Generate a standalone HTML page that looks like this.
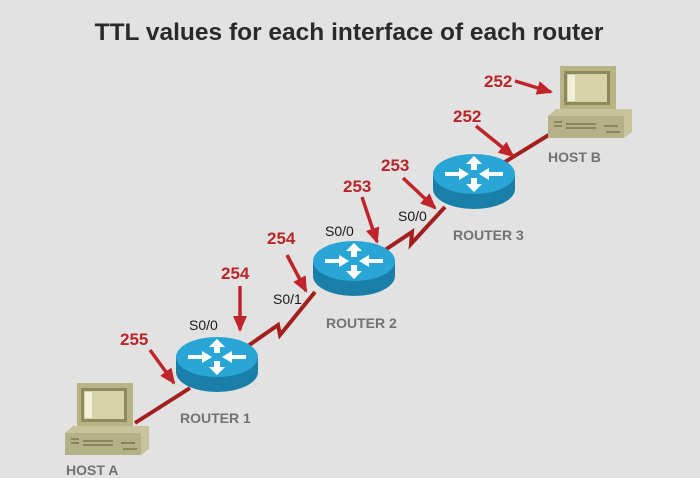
<!DOCTYPE html>
<html><head><style>body{margin:0;background:#e2e2e2}svg{display:block}</style></head>
<body>
<svg width="700" height="478" viewBox="0 0 700 478" xmlns="http://www.w3.org/2000/svg" font-family="Liberation Sans, sans-serif">
<defs>
<marker id="b" markerWidth="16" markerHeight="14" refX="14" refY="7" orient="auto" markerUnits="userSpaceOnUse"><path d="M0,0 L16,7 L0,14 Z" fill="#c0242a"/></marker>
<g id="r">
<path d="M-41,0 v15 a41,20 0 0 0 82,0 v-15 z" fill="#1a7fa8"/>
<ellipse cx="0" cy="0" rx="41" ry="20" fill="#29a6d6"/>
<g fill="#fff">
<path d="M0,-18 l-8,8 h5 v6 h6 v-6 h5 z"/>
<path d="M0,18 l-8,-8 h5 v-6 h6 v6 h5 z"/>
<path d="M-5,0 l-10,-6 v4 h-14 v4 h14 v4 z"/>
<path d="M5,0 l10,-6 v4 h14 v4 h-14 v4 z"/>
</g>
</g>
<g id="h">
<rect x="12" y="0" width="56" height="46" fill="#b8b486"/>
<rect x="16" y="5" width="46" height="34" fill="#8e8a5e"/>
<rect x="19" y="8" width="40" height="28" fill="#d7d3a8"/>
<rect x="20" y="9" width="7" height="26" fill="#f3f0d8"/>
<path d="M0,50 L8,43 H84 V66 L76,72 H0 Z" fill="#c7c39a"/>
<rect x="0" y="50" width="76" height="22" fill="#b4b088"/>
<g stroke="#7c7854" stroke-width="1.5"><line x1="6" y1="56" x2="14" y2="56"/><line x1="6" y1="60" x2="14" y2="60"/><line x1="18" y1="58" x2="48" y2="58"/><line x1="18" y1="62" x2="48" y2="62"/><line x1="56" y1="60" x2="70" y2="60"/><line x1="58" y1="66" x2="72" y2="66"/></g>
</g>
</defs>
<text x="349" y="40" text-anchor="middle" font-size="24.5" font-weight="bold" fill="#2a2a2a">TTL values for each interface of each router</text>
<g stroke="#a31f1f" stroke-width="4" fill="none">
<line x1="135" y1="423" x2="190" y2="388"/>
<polyline points="245,348 278,325 280,335 315,292"/>
<polyline points="385,250 412,232 411,244 445,207"/>
<line x1="500" y1="165" x2="560" y2="128"/>
</g>
<use href="#h" x="65" y="383"/>
<use href="#h" x="548" y="66"/>
<use href="#r" x="217" y="357"/>
<use href="#r" x="354" y="261"/>
<use href="#r" x="474" y="174"/>
<g stroke="#c0242a" stroke-width="3.5" fill="none" marker-end="url(#b)">
<line x1="150" y1="350" x2="174" y2="383"/>
<line x1="240" y1="286" x2="240" y2="330"/>
<line x1="287" y1="255" x2="306" y2="291"/>
<line x1="362" y1="197" x2="377" y2="242"/>
<line x1="403" y1="178" x2="435" y2="208"/>
<line x1="476" y1="126" x2="513" y2="156"/>
<line x1="515" y1="81" x2="551" y2="92"/>
</g>
<g font-size="17" font-weight="bold" fill="#b8262a">
<text x="120" y="345">255</text><text x="221" y="279">254</text><text x="267" y="244">254</text>
<text x="343" y="192">253</text><text x="381" y="171">253</text><text x="453" y="122">252</text><text x="484" y="87">252</text>
</g>
<g font-size="14" fill="#1a1a1a">
<text x="189" y="330">S0/0</text><text x="273" y="304">S0/1</text><text x="325" y="236">S0/0</text><text x="398" y="221">S0/0</text>
</g>
<g font-size="14" font-weight="bold" fill="#727272">
<text x="180" y="423">ROUTER 1</text><text x="326" y="328">ROUTER 2</text><text x="453" y="240">ROUTER 3</text>
<text x="548" y="162">HOST B</text><text x="66" y="475">HOST A</text>
</g>
</svg>
</body></html>
